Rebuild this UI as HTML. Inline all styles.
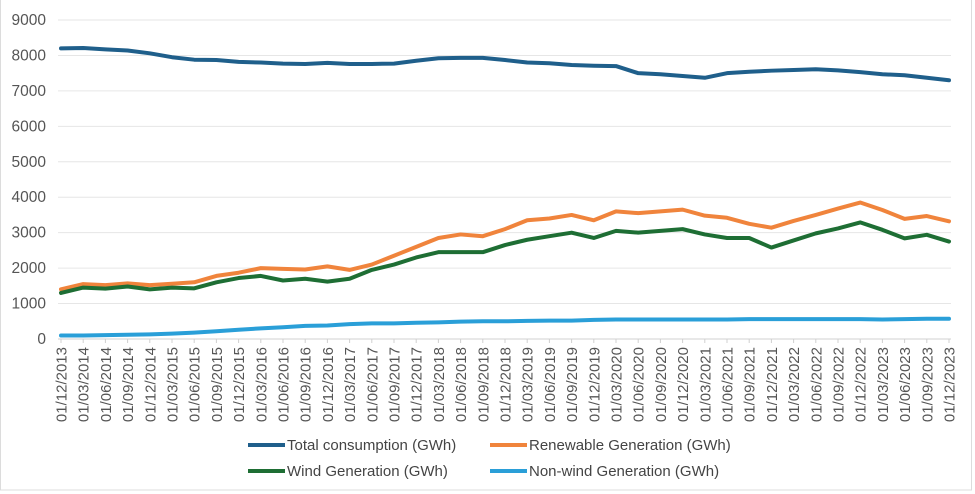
<!DOCTYPE html>
<html><head><meta charset="utf-8"><style>
body{margin:0;background:#fff;}
svg{display:block;font-family:"Liberation Sans",Arial,sans-serif;}
</style></head><body>
<svg id="chart" width="975" height="494">
<rect x="0.5" y="-1" width="971" height="491" fill="#fff" stroke="#dcdcdc"/>
<g id="grid"></g><g id="ylab"></g><g id="xlab"></g><g id="lines"></g>
<g id="legend">
<line x1="248" y1="445" x2="285" y2="445" stroke="#1f5f8b" stroke-width="4"/>
<text x="287" y="450" font-size="15" fill="#444">Total consumption (GWh)</text>
<line x1="490" y1="445" x2="527" y2="445" stroke="#f0843c" stroke-width="4"/>
<text x="529" y="450" font-size="15" fill="#444">Renewable Generation (GWh)</text>
<line x1="248" y1="471" x2="285" y2="471" stroke="#1e6e34" stroke-width="4"/>
<text x="287" y="476" font-size="15" fill="#444">Wind Generation (GWh)</text>
<line x1="490" y1="471" x2="527" y2="471" stroke="#2a9fd8" stroke-width="4"/>
<text x="529" y="476" font-size="15" fill="#444">Non-wind Generation (GWh)</text>
</g>
</svg>
<script>
const categories = ["01/12/2013","01/03/2014","01/06/2014","01/09/2014","01/12/2014","01/03/2015","01/06/2015","01/09/2015","01/12/2015","01/03/2016","01/06/2016","01/09/2016","01/12/2016","01/03/2017","01/06/2017","01/09/2017","01/12/2017","01/03/2018","01/06/2018","01/09/2018","01/12/2018","01/03/2019","01/06/2019","01/09/2019","01/12/2019","01/03/2020","01/06/2020","01/09/2020","01/12/2020","01/03/2021","01/06/2021","01/09/2021","01/12/2021","01/03/2022","01/06/2022","01/09/2022","01/12/2022","01/03/2023","01/06/2023","01/09/2023","01/12/2023"];
const totalConsumption = [8200,8210,8170,8140,8060,7950,7880,7870,7820,7800,7770,7760,7790,7760,7760,7770,7850,7920,7930,7930,7870,7800,7780,7730,7710,7700,7500,7470,7420,7370,7500,7540,7570,7590,7610,7580,7530,7470,7440,7370,7300];
const renewableGen = [1400,1550,1520,1570,1520,1560,1600,1780,1870,2000,1980,1960,2050,1950,2100,2350,2600,2850,2950,2900,3100,3350,3400,3500,3350,3600,3550,3600,3650,3480,3420,3250,3140,3330,3500,3680,3850,3640,3390,3470,3320];
const windGen = [1300,1450,1420,1480,1400,1450,1430,1600,1720,1780,1650,1700,1620,1700,1950,2100,2300,2450,2450,2450,2650,2800,2900,3000,2850,3050,3000,3050,3100,2950,2850,2850,2580,2780,2980,3120,3290,3080,2840,2940,2750];
const nonWindGen = [100,100,110,120,130,150,180,220,260,300,330,370,380,420,440,440,460,470,490,500,500,510,520,520,540,550,550,550,550,550,550,560,560,560,560,560,560,550,560,570,570];
const yTicks = [0,1000,2000,3000,4000,5000,6000,7000,8000,9000];

const NS="http://www.w3.org/2000/svg";
const X0=61, X1=949, Y0=339, YTOP=20, YMAX=9000;
function xs(i){return X0+i*(X1-X0)/(categories.length-1);}
function ys(v){return Y0-(v/YMAX)*(Y0-YTOP);}
function mk(tag,attrs,parent){const e=document.createElementNS(NS,tag);for(const k in attrs)e.setAttribute(k,attrs[k]);parent.appendChild(e);return e;}
const grid=document.getElementById('grid'),ylab=document.getElementById('ylab'),xlab=document.getElementById('xlab'),lines=document.getElementById('lines');
yTicks.forEach(t=>{
  const g=mk('line',{x1:58,x2:951,y1:ys(t),y2:ys(t),stroke:t===0?'#d0d0d0':'#e6e6e6','stroke-width':1},grid);
  
  
  const l=mk('text',{x:46,y:ys(t)+5,'font-size':15.5,fill:'#555','text-anchor':'end'},ylab);
  l.textContent=t;
  
  
});
categories.forEach((c,i)=>{
  const x=xs(i);
  const tk=mk('line',{x1:x,x2:x,y1:Y0,y2:Y0+4,stroke:'#d0d0d0'},xlab);
  
  
  const t=mk('text',{x:0,y:0,'font-size':15,fill:'#555','text-anchor':'end',transform:`translate(${x+5.5},347) rotate(-90)`},xlab);
  t.textContent=c;
  
  
});
function series(arr,color,name){
  const p=mk('polyline',{points:arr.map((v,i)=>xs(i)+','+ys(v)).join(' '),fill:'none',stroke:color,'stroke-width':4,'stroke-linejoin':'round','stroke-linecap':'round'},lines);
  
  
}
series(nonWindGen,'#2a9fd8','nonwind-generation-line');
series(renewableGen,'#f0843c','renewable-generation-line');
series(windGen,'#1e6e34','wind-generation-line');
series(totalConsumption,'#1f5f8b','total-consumption-line');
</script>
</body></html>
